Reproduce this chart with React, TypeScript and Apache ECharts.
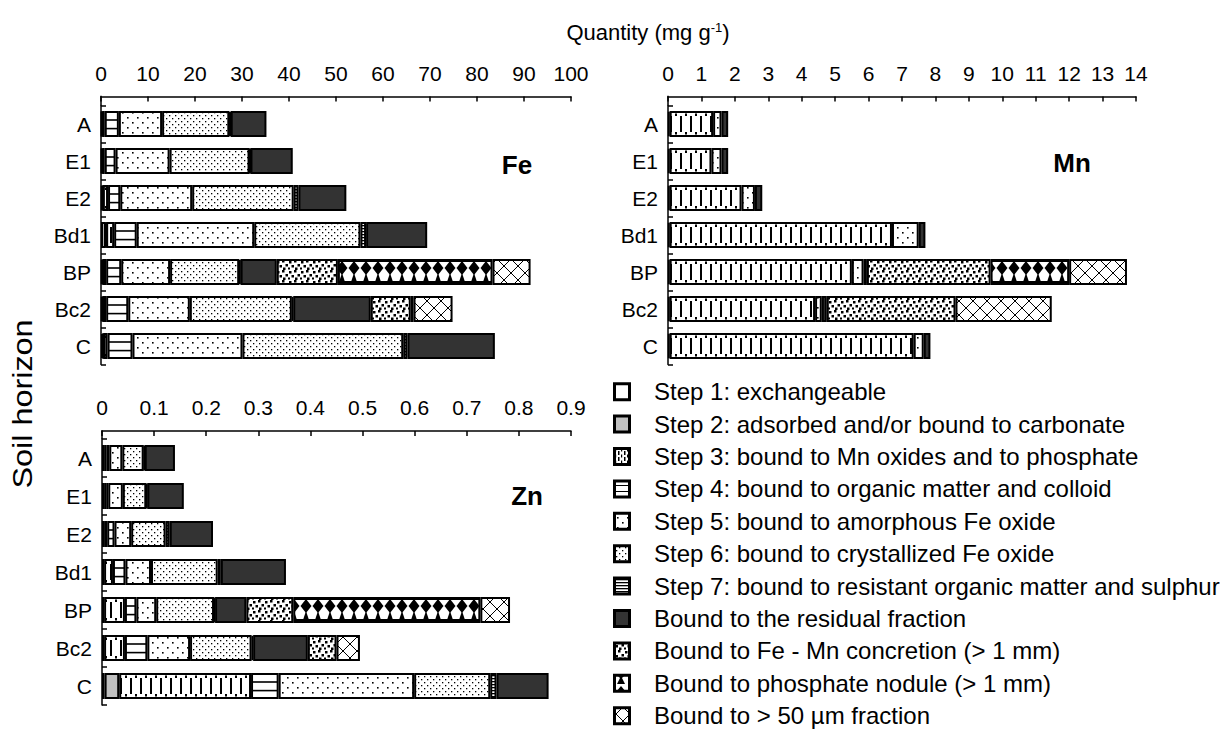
import React, { useEffect, useRef } from "react";
import * as echarts from "echarts";

const horizons = ["A", "E1", "E2", "Bd1", "BP", "Bc2", "C"];

const fractionNames = [
  "Step 1: exchangeable",
  "Step 2: adsorbed and/or bound to carbonate",
  "Step 3: bound to Mn oxides and to phosphate",
  "Step 4: bound to organic matter and colloid",
  "Step 5: bound to amorphous Fe oxide",
  "Step 6: bound to crystallized Fe oxide",
  "Step 7: bound to resistant organic matter and sulphur",
  "Bound to the residual fraction",
  "Bound to Fe - Mn concretion (> 1 mm)",
  "Bound to phosphate nodule (> 1 mm)",
  "Bound to > 50 \u00b5m fraction",
];

const feTicks = [0, 100, 10];
const mnTicks = [0, 14, 1];
const znTicks = [0, 0.9, 0.1];

// Fe (mg/g), rows A, E1, E2, Bd1, BP, Bc2, C
const feStep1 = [0.2, 0.2, 0.3, 1.0, 0.3, 0.3, 0.4];
const feStep2 = [0.1, 0.1, 0.1, 0.1, 0.1, 0.1, 0.1];
const feStep3 = [0.5, 0.5, 1.1, 1.7, 0.7, 0.7, 0.9];
const feStep4 = [3.0, 2.3, 2.6, 4.8, 3.2, 4.7, 5.3];
const feStep5 = [9.2, 11.5, 15.3, 25.0, 10.4, 13.1, 23.4];
const feStep6 = [14.3, 17.0, 21.6, 22.6, 14.7, 21.7, 34.2];
const feStep7 = [0.3, 0.2, 1.0, 1.2, 0.3, 0.3, 0.9];
const feResidual = [7.6, 9.0, 10.2, 13.0, 7.7, 16.5, 18.6];
const feConcretion = [null, null, null, null, 13.0, 8.5, null];
const feNodule = [null, null, null, null, 32.9, 0.6, null];
const feCoarse = [null, null, null, null, 8.1, 8.3, null];

// Mn (mg/g)
const mnStep1 = [0.05, 0.05, 0.05, 0.05, 0.05, 0.05, 0.05];
const mnStep2 = [null, null, null, null, null, null, null];
const mnStep3 = [1.3, 1.25, 2.15, 6.65, 5.45, 4.35, 7.3];
const mnStep4 = [null, null, null, null, null, null, null];
const mnStep5 = [0.25, 0.3, 0.4, 0.8, 0.35, 0.2, 0.3];
const mnStep6 = [null, null, null, null, null, null, null];
const mnStep7 = [null, null, null, null, null, null, null];
const mnResidual = [0.2, 0.2, 0.22, 0.2, 0.1, 0.15, 0.2];
const mnConcretion = [null, null, null, null, 3.7, 3.85, null];
const mnNodule = [null, null, null, null, 2.35, null, null];
const mnCoarse = [null, null, null, null, 1.73, 2.88, null];

// Zn (mg/g)
const znStep1 = [0.004, 0.004, 0.004, 0.004, 0.004, 0.004, 0.005];
const znStep2 = [null, null, null, null, null, null, 0.028];
const znStep3 = [0.005, 0.004, 0.006, 0.017, 0.04, 0.04, 0.253];
const znStep4 = [0.005, 0.004, 0.014, 0.024, 0.022, 0.043, 0.053];
const znStep5 = [0.025, 0.028, 0.032, 0.049, 0.038, 0.082, 0.26];
const znStep6 = [0.041, 0.045, 0.066, 0.128, 0.111, 0.118, 0.146];
const znStep7 = [0.002, 0.002, 0.008, 0.006, 0.002, 0.003, 0.012];
const znResidual = [0.058, 0.07, 0.083, 0.125, 0.06, 0.105, 0.1];
const znConcretion = [null, null, null, null, 0.09, 0.055, null];
const znNodule = [null, null, null, null, 0.359, null, null];
const znCoarse = [null, null, null, null, 0.057, 0.045, null];

const FONT = "'Liberation Sans', Arial, sans-serif";

type Draw = (g: CanvasRenderingContext2D, w: number, h: number) => void;

function tile(w: number, h: number, draw: Draw): any {
  const c = document.createElement("canvas");
  c.width = w;
  c.height = h;
  const g = c.getContext("2d")!;
  g.fillStyle = "#fff";
  g.fillRect(0, 0, w, h);
  g.fillStyle = "#000";
  g.strokeStyle = "#000";
  draw(g, w, h);
  return { image: c.toDataURL(), repeat: "repeat", imageWidth: w, imageHeight: h };
}

// Row-aligned tile: the bar top sits at (barTop mod rowH) inside the tile; wrapped.
function rowTile(w: number, rowH: number, barTop: number, drawBar: (g: CanvasRenderingContext2D, y0: number) => void) {
  const s = ((barTop % rowH) + rowH) % rowH;
  return tile(w, rowH, (g) => {
    drawBar(g, s);
    drawBar(g, s - rowH);
  });
}

function step3Bar(g: CanvasRenderingContext2D, y: number) {
  g.fillRect(0, y + 5, 2, 16);
  g.fillRect(5, y + 2.5, 2, 2.5);
  g.fillRect(5, y + 21, 2, 2.5);
}
function step4Bar(g: CanvasRenderingContext2D, y: number) {
  g.fillRect(0, y + 8.2, 4, 1.6);
  g.fillRect(0, y + 16.8, 4, 1.6);
}
function noduleBar(g: CanvasRenderingContext2D, y: number) {
  g.fillRect(0, y, 12, 3);
  g.beginPath();
  g.moveTo(6, y + 2);
  g.lineTo(11.5, y + 9);
  g.lineTo(6, y + 16);
  g.lineTo(0.5, y + 9);
  g.closePath();
  g.fill();
  g.beginPath();
  g.moveTo(6, y + 14);
  g.lineTo(10, y + 26);
  g.lineTo(2, y + 26);
  g.closePath();
  g.fill();
  g.fillRect(0, y + 22, 12, 4);
}

function commonFills() {
  const p5 = tile(10, 10, (g) => {
    g.fillRect(2, 2, 1.6, 1.6);
    g.fillRect(7, 7, 1.6, 1.6);
  });
  const p6 = tile(6, 6, (g) => {
    g.fillRect(1, 1, 1.3, 1.3);
    g.fillRect(4, 4, 1.3, 1.3);
  });
  const p7 = tile(4, 3, (g) => {
    g.fillRect(0, 0, 4, 1.3);
  });
  const conc = tile(12, 10, (g) => {
    g.fillRect(1, 1, 2.5, 2.5);
    g.fillRect(6, 0, 2.5, 2.5);
    g.fillRect(9.5, 4, 2.5, 2.5);
    g.fillRect(3.5, 5, 2.5, 2.5);
    g.fillRect(7, 7.5, 2.5, 2.5);
    g.fillRect(0, 7.5, 2, 2);
  });
  const coarse = tile(14, 14, (g) => {
    g.lineWidth = 1;
    g.beginPath();
    g.moveTo(0, 0);
    g.lineTo(14, 14);
    g.moveTo(14, 0);
    g.lineTo(0, 14);
    g.stroke();
  });
  return { p5, p6, p7, conc, coarse };
}

function buildFills(rowH: number, barTop: number) {
  const c = commonFills();
  return [
    "#ffffff",
    "#c0c0c0",
    rowTile(10, rowH, barTop, step3Bar),
    rowTile(4, rowH, barTop, step4Bar),
    c.p5,
    c.p6,
    c.p7,
    "#333333",
    c.conc,
    rowTile(12, rowH, barTop, noduleBar),
    c.coarse,
  ];
}

function legendFills() {
  const c = commonFills();
  return [
    "#ffffff",
    "#c0c0c0",
    tile(6, 6, (g) => {
      g.fillRect(0, 1, 1.5, 4);
      g.fillRect(3, 0, 1.2, 1.5);
      g.fillRect(3, 4.5, 1.2, 1.5);
    }),
    tile(4, 6, (g) => {
      g.fillRect(0, 5, 4, 1.6);
    }),
    c.p5,
    c.p6,
    c.p7,
    "#333333",
    c.conc,
    tile(18, 18, (g) => {
      g.beginPath();
      g.moveTo(9, 2); g.lineTo(14, 8); g.lineTo(9, 13); g.lineTo(4, 8); g.closePath(); g.fill();
      g.beginPath();
      g.moveTo(9, 10); g.lineTo(13, 18); g.lineTo(5, 18); g.closePath(); g.fill();
    }),
    c.coarse,
  ];
}

export default function App() {
  const ref = useRef<HTMLDivElement>(null);

  useEffect(() => {
    if (!ref.current) return;
    const chart = echarts.init(ref.current, undefined, { renderer: "svg" });

    const feData = [feStep1, feStep2, feStep3, feStep4, feStep5, feStep6, feStep7, feResidual, feConcretion, feNodule, feCoarse];
    const mnData = [mnStep1, mnStep2, mnStep3, mnStep4, mnStep5, mnStep6, mnStep7, mnResidual, mnConcretion, mnNodule, mnCoarse];
    const znData = [znStep1, znStep2, znStep3, znStep4, znStep5, znStep6, znStep7, znResidual, znConcretion, znNodule, znCoarse];

    const topFeMn = 105.5;
    const rowFeMn = 37;
    const topZn = 439;
    const rowZn = 38;
    const bw = 26;

    const fillsFeMn = buildFills(rowFeMn, topFeMn + (rowFeMn - bw) / 2);
    const fillsZn = buildFills(rowZn, topZn + (rowZn - bw) / 2);

    const grids = [
      { left: 101, top: topFeMn, width: 470, height: rowFeMn * 7 },
      { left: 668, top: topFeMn, width: 468, height: rowFeMn * 7 },
      { left: 102, top: topZn, width: 469, height: rowZn * 7 },
    ];
    const ticks = [feTicks, mnTicks, znTicks];
    const offsets = [9, 9, 8];

    const xAxis = ticks.map((t, i) => ({
      type: "value",
      gridIndex: i,
      position: "top",
      offset: offsets[i],
      min: t[0],
      max: t[1],
      interval: t[2],
      axisLine: { show: true, lineStyle: { color: "#000", width: 1.5 } },
      axisTick: { show: true, inside: true, length: 5, lineStyle: { color: "#000", width: 1.5 } },
      axisLabel: { color: "#000", fontSize: 21, fontFamily: FONT, margin: 13 },
      splitLine: { show: false },
    }));

    const yAxis = ticks.map((_, i) => ({
      type: "category",
      gridIndex: i,
      inverse: true,
      data: horizons,
      axisLine: { show: true, lineStyle: { color: "#000", width: 1.5 } },
      axisTick: { show: true, inside: true, length: 5, lineStyle: { color: "#000", width: 1.5 } },
      axisLabel: { color: "#000", fontSize: 21, fontFamily: FONT, margin: 10 },
      splitLine: { show: false },
    }));

    const series: any[] = [];
    const panels: [any[], any[], string][] = [
      [feData, fillsFeMn, "fe"],
      [mnData, fillsFeMn, "mn"],
      [znData, fillsZn, "zn"],
    ];
    panels.forEach(([data, fills, key], pi) => {
      data.forEach((d: any, fi: number) => {
        series.push({
          type: "bar",
          name: fractionNames[fi],
          stack: key,
          xAxisIndex: pi,
          yAxisIndex: pi,
          data: d,
          barWidth: bw,
          silent: true,
          itemStyle: { color: fills[fi], borderColor: "#000", borderWidth: 2 },
        });
      });
    });

    const lf = legendFills();
    const legendTop = 391.7;
    const legendGap = 32.4;
    const graphic: any[] = [
      { type: "line", shape: { x1: 101, y1: topFeMn - 9.75, x2: 101, y2: topFeMn }, style: { stroke: "#000", lineWidth: 1.5 } },
      { type: "line", shape: { x1: 668, y1: topFeMn - 9.75, x2: 668, y2: topFeMn }, style: { stroke: "#000", lineWidth: 1.5 } },
      { type: "line", shape: { x1: 102, y1: topZn - 8.75, x2: 102, y2: topZn }, style: { stroke: "#000", lineWidth: 1.5 } },
      {
        type: "text",
        x: 648,
        y: 32,
        style: {
          text: "Quantity (mg g{s|-1})",
          fontSize: 22,
          fontFamily: FONT,
          fill: "#000",
          align: "center",
          verticalAlign: "middle",
          rich: { s: { fontSize: 13, fontFamily: FONT, verticalAlign: "top", fill: "#000" } },
        },
      },
      {
        type: "text",
        x: 22,
        y: 404,
        rotation: Math.PI / 2,
        scaleX: 1.2,
        style: { text: "Soil horizon", fontSize: 27, fontFamily: FONT, fill: "#000", align: "center", verticalAlign: "middle" },
      },
      { type: "text", x: 517, y: 165, style: { text: "Fe", fontSize: 26, fontWeight: "bold", fontFamily: FONT, fill: "#000", align: "center", verticalAlign: "middle" } },
      { type: "text", x: 1072, y: 163, style: { text: "Mn", fontSize: 26, fontWeight: "bold", fontFamily: FONT, fill: "#000", align: "center", verticalAlign: "middle" } },
      { type: "text", x: 527, y: 496, style: { text: "Zn", fontSize: 26, fontWeight: "bold", fontFamily: FONT, fill: "#000", align: "center", verticalAlign: "middle" } },
    ];
    fractionNames.forEach((name, i) => {
      const cy = legendTop + i * legendGap;
      graphic.push({
        type: "rect",
        shape: { x: 614.5, y: cy - 8, width: 15, height: 16 },
        style: { fill: lf[i], stroke: "#000", lineWidth: 3 },
      });
      graphic.push({
        type: "text",
        x: 654,
        y: cy,
        style: { text: name, fontSize: 24, fontFamily: FONT, fill: "#000", align: "left", verticalAlign: "middle" },
      });
    });

    chart.setOption({
      animation: false,
      backgroundColor: "#ffffff",
      grid: grids,
      xAxis,
      yAxis,
      series,
      graphic,
    });

    return () => chart.dispose();
  }, []);

  return (
    <div
      ref={ref}
      style={{ position: "absolute", left: 0, top: 0, width: 1228, height: 729, background: "#fff" }}
    />
  );
}
